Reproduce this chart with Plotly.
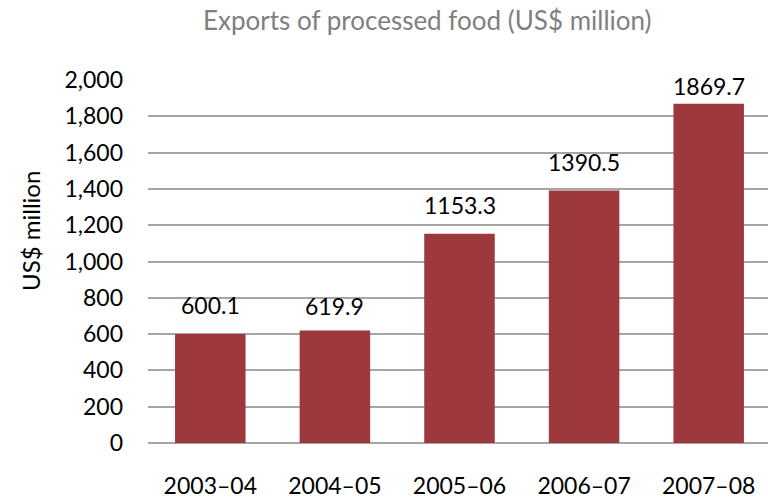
import plotly.graph_objects as go

categories = ["2003–04", "2004–05", "2005–06", "2006–07", "2007–08"]
values = [600.1, 619.9, 1153.3, 1390.5, 1869.7]
value_labels = ["600.1", "619.9", "1153.3", "1390.5", "1869.7"]
y_ticks = [0, 200, 400, 600, 800, 1000, 1200, 1400, 1600, 1800, 2000]
y_tick_labels = ["0", "200", "400", "600", "800", "1,000", "1,200", "1,400", "1,600", "1,800", "2,000"]

# pixel offsets of the value labels above the bars (layout only)
label_shift = [13, 8, 13, 13, 2]

FONT = "Lato"
BAR = "#9D383D"
GRID = "#A6A6A6"
FS = 23

fig = go.Figure()
fig.add_trace(go.Bar(x=categories, y=values, marker=dict(color=BAR, line=dict(width=0)),
                     hoverinfo="skip"))

for c, v, t, s in zip(categories, values, value_labels, label_shift):
    fig.add_annotation(x=c, y=v, text=t, showarrow=False, yanchor="bottom", yshift=s,
                       font=dict(family=FONT, size=FS, color="#000000"))

fig.update_layout(
    width=768, height=500,
    margin=dict(l=148, r=0, t=80, b=57),
    paper_bgcolor="white", plot_bgcolor="white",
    bargap=0.434,
    showlegend=False,
    xaxis=dict(range=[-0.5, 4.476], tickfont=dict(family=FONT, size=FS, color="#000000"),
               showgrid=False, showline=False, ticks="", ticklabelstandoff=27),
    yaxis=dict(range=[0, 2000], tickvals=y_ticks, ticktext=y_tick_labels,
               tickfont=dict(family=FONT, size=FS, color="#000000"),
               showgrid=True, gridcolor=GRID, gridwidth=1.5,
               zeroline=True, zerolinecolor=GRID, zerolinewidth=1.5,
               showline=False, ticks="", ticklabelstandoff=24,
               title=dict(text="")),
)

# chart title
fig.add_annotation(xref="paper", yref="paper", x=(427 - 148) / 620, xanchor="center",
                   y=1 + (80 - 20) / 363, yanchor="middle",
                   text="Exports of processed food (US$ million)", showarrow=False,
                   font=dict(family=FONT, size=26, color="#7F7F7F"))

# y-axis title
fig.add_annotation(xref="paper", yref="paper", x=(30 - 148) / 620, xanchor="center",
                   y=(443 - 231) / 363, yanchor="middle", textangle=-90,
                   text="US$ million", showarrow=False,
                   font=dict(family=FONT, size=24, color="#000000"))

fig.write_html("out.html")
